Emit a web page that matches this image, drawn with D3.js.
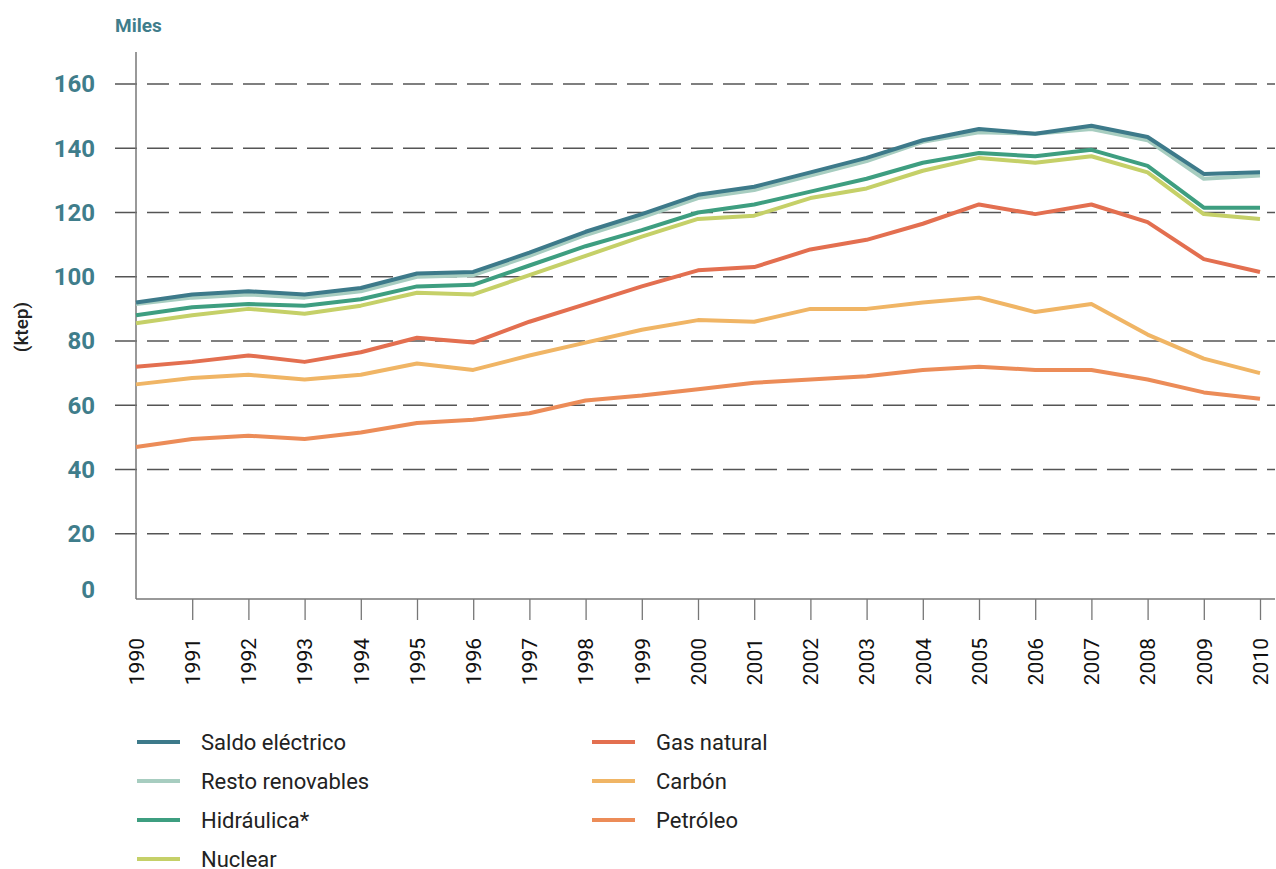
<!DOCTYPE html>
<html>
<head>
<meta charset="utf-8">
<script src="https://cdn.jsdelivr.net/npm/d3@7"></script>
<style>
  body { margin: 0; background: #fff; }
  svg { font-family: Roboto, "Open Sans", sans-serif; }
</style>
</head>
<body>
<svg id="chart" width="1276" height="869"></svg>
<script>
var years = [1990, 1991, 1992, 1993, 1994, 1995, 1996, 1997, 1998, 1999, 2000,
             2001, 2002, 2003, 2004, 2005, 2006, 2007, 2008, 2009, 2010];
var yTicks = [0, 20, 40, 60, 80, 100, 120, 140, 160];

var saldoElectrico = [92, 94.5, 95.5, 94.5, 96.5, 101, 101.5, 107.5, 114, 119.5, 125.5, 128, 132.5, 137, 142.5, 146, 144.5, 147, 143.5, 132, 132.5];
var restoRenovables = [91.5, 93.5, 94.5, 93.5, 95.5, 100, 100.5, 106.5, 113, 118.5, 124.5, 127, 131.5, 136, 142, 145, 144.5, 146, 142.5, 130.5, 131.5];
var hidraulica = [88, 90.5, 91.5, 91, 93, 97, 97.5, 103.5, 109.5, 114.5, 120, 122.5, 126.5, 130.5, 135.5, 138.5, 137.5, 139.5, 134.5, 121.5, 121.5];
var nuclear = [85.5, 88, 90, 88.5, 91, 95, 94.5, 100.5, 106.5, 112.5, 118, 119, 124.5, 127.5, 133, 137, 135.5, 137.5, 132.5, 119.5, 118];
var gasNatural = [72, 73.5, 75.5, 73.5, 76.5, 81, 79.5, 86, 91.5, 97, 102, 103, 108.5, 111.5, 116.5, 122.5, 119.5, 122.5, 117, 105.5, 101.5];
var carbon = [66.5, 68.5, 69.5, 68, 69.5, 73, 71, 75.5, 79.5, 83.5, 86.5, 86, 90, 90, 92, 93.5, 89, 91.5, 82, 74.5, 70];
var petroleo = [47, 49.5, 50.5, 49.5, 51.5, 54.5, 55.5, 57.5, 61.5, 63, 65, 67, 68, 69, 71, 72, 71, 71, 68, 64, 62];

// drawing order: bottom first so top lines overlap
var series = [
    { name: "Petróleo", values: petroleo, color: "#ec8c58" },
    { name: "Carbón", values: carbon, color: "#f0b565" },
    { name: "Gas natural", values: gasNatural, color: "#e36f50" },
    { name: "Nuclear", values: nuclear, color: "#c5d068" },
    { name: "Hidráulica*", values: hidraulica, color: "#3e9e80" },
    { name: "Resto renovables", values: restoRenovables, color: "#a7cdc0" },
    { name: "Saldo eléctrico", values: saldoElectrico, color: "#3d7a8a" }
];

var legendLeft = ["Saldo eléctrico", "Resto renovables", "Hidráulica*", "Nuclear"];
var legendRight = ["Gas natural", "Carbón", "Petróleo"];

var svg = d3.select("#chart");

var x = d3.scaleLinear().domain([1990, 2010]).range([136, 1260]);
var y = d3.scaleLinear().domain([0, 160]).range([598, 84]);

var teal = "#3f7d8b";

// gridlines
svg.append("g").selectAll("line")
    .data(yTicks.filter(function (d) { return d > 0; }))
    .enter().append("line")
    .attr("x1", 115).attr("x2", 1275)
    .attr("y1", function (d) { return y(d); })
    .attr("y2", function (d) { return y(d); })
    .style("stroke", "#555")
    .style("stroke-width", 1.3)
    .style("stroke-dasharray", "22,10");

// y tick labels
svg.append("g").selectAll("text")
    .data(yTicks)
    .enter().append("text")
    .attr("x", 95)
    .attr("y", function (d) { return d == 0 ? y(d) - 8 : y(d); })
    .attr("dy", "0.35em")
    .attr("text-anchor", "end")
    .style("font-size", "24px")
    .style("font-weight", "bold")
    .style("fill", teal)
    .text(function (d) { return d; });

svg.append("text")
    .attr("x", 115).attr("y", 32)
    .style("font-size", "19px")
    .style("font-weight", "bold")
    .style("fill", teal)
    .text("Miles");

svg.append("text")
    .attr("transform", "translate(28, 327) rotate(-90)")
    .attr("text-anchor", "middle")
    .style("font-size", "19px")
    .style("font-weight", "500")
    .style("fill", "#222")
    .text("(ktep)");

// axes
var axisX = d3.axisBottom(x)
    .tickValues(years)
    .tickFormat(d3.format("d"))
    .tickSize(21)
    .tickSizeOuter(0);

var gx = svg.append("g")
    .attr("transform", "translate(0, 599)")
    .call(axisX);
gx.select(".domain").attr("d", "M136,0H1275").style("stroke", "#777").style("stroke-width", 1.5);
gx.selectAll(".tick line").style("stroke", "#777").style("stroke-width", 1.3)
    .filter(function (d) { return d == 1990; }).remove();
gx.selectAll(".tick text")
    .attr("transform", "rotate(-90)")
    .attr("x", -39).attr("y", 0).attr("dy", "0.35em")
    .attr("text-anchor", "end")
    .style("font-size", "21px")
    .style("font-family", "Roboto, sans-serif")
    .style("fill", "#111");

svg.append("line")
    .attr("x1", 136).attr("x2", 136)
    .attr("y1", 52).attr("y2", 599)
    .style("stroke", "#777")
    .style("stroke-width", 1.5);

// lines
var line = d3.line()
    .x(function (d, i) { return x(years[i]); })
    .y(function (d) { return y(d); });

svg.append("g").selectAll("path")
    .data(series)
    .enter().append("path")
    .attr("d", function (d) { return line(d.values); })
    .style("fill", "none")
    .style("stroke", function (d) { return d.color; })
    .style("stroke-width", 4)
    .style("stroke-linejoin", "round");

// legend
function colorOf(name) {
    return series.filter(function (s) { return s.name == name; })[0].color;
}

function drawLegend(names, lx) {
    var g = svg.append("g");
    var item = g.selectAll("g")
        .data(names)
        .enter().append("g")
        .attr("transform", function (d, i) { return "translate(" + lx + "," + (742 + i * 39) + ")"; });
    item.append("line")
        .attr("x1", 0).attr("x2", 43)
        .style("stroke", function (d) { return colorOf(d); })
        .style("stroke-width", 4);
    item.append("text")
        .attr("x", 64).attr("dy", "0.35em")
        .style("font-size", "22px")
        .style("fill", "#222")
        .text(function (d) { return d; });
}

drawLegend(legendLeft, 137);
drawLegend(legendRight, 592);
</script>
</body>
</html>
